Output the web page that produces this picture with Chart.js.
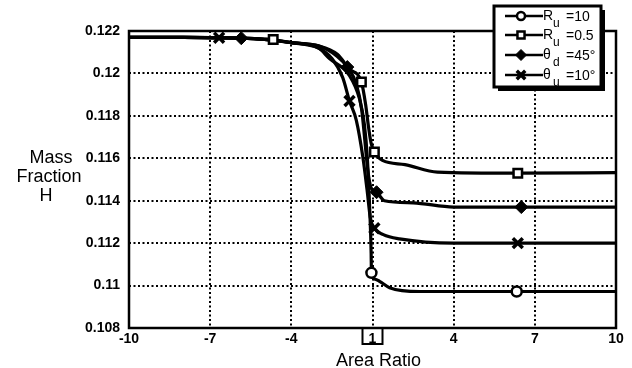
<!DOCTYPE html>
<html>
<head>
<meta charset="utf-8">
<script src="https://cdn.jsdelivr.net/npm/chart.js@4/dist/chart.umd.min.js"></script>
<style>
html,body{margin:0;padding:0;background:#fff;}
canvas{display:block;}
</style>
</head>
<body>
<canvas id="c" width="632" height="368"></canvas>
<script>
// ---- Data (x in axis units: 0 = area ratio 1, negative side mirrored) ----
const xTickLabels = {"-9":"-10","-6":"-7","-3":"-4","0":"1","3":"4","6":"7","9":"10"};
const yTickValues = [0.108,0.11,0.112,0.114,0.116,0.118,0.12,0.122];

const seriesNames = ["Ru=10","Ru=0.5","θd=45°","θu=10°"];

// Ru = 10 (circle)
const ru10X = [-9,-7,-5,-4,-3,-2,-1.59,-0.85,-0.48,-0.30,-0.19,-0.10,-0.05,0.10,0.26,0.63,1.74,9];
const ru10Y = [0.1217,0.1217,0.12166,0.1216,0.12145,0.1212,0.1207,0.1199,0.1188,0.1176,0.1160,0.1135,0.1115,0.1103,0.1102,0.1099,0.10972,0.10972];
const ru10MX = [-0.04,5.33];
const ru10MY = [0.1106,0.10972];

// Ru = 0.5 (square)
const ru05X = [-9,-7,-5,-3,-2,-1.3,-0.85,-0.25,-0.15,-0.05,0.37,1.2,2.4,9];
const ru05Y = [0.1217,0.1217,0.12166,0.12145,0.1213,0.1209,0.1202,0.1185,0.1175,0.1167,0.1159,0.1157,0.11535,0.11532];
const ru05MX = [-3.67,-0.41,0.07,5.37];
const ru05MY = [0.1216,0.1196,0.1163,0.1153];

// theta_d = 45 (diamond)
const td45X = [-9,-7,-4,-3,-2,-1.3,-0.6,-0.4,-0.28,-0.18,-0.05,0.44,1.5,3,9];
const td45Y = [0.1217,0.1217,0.1216,0.12145,0.1213,0.1208,0.1195,0.1183,0.1168,0.1155,0.1146,0.1140,0.1139,0.1137,0.1137];
const td45MX = [-4.85,-0.93,0.15,5.5];
const td45MY = [0.12166,0.1203,0.1144,0.1137];

// theta_u = 10 (x)
const tu10X = [-9,-7,-5,-4,-3,-2,-1.5,-1.1,-0.6,-0.35,-0.2,-0.08,0.4,1.0,3,9];
const tu10Y = [0.1217,0.1217,0.12168,0.1216,0.12145,0.1212,0.1207,0.1198,0.1178,0.1160,0.1145,0.1132,0.1124,0.1122,0.1120,0.1120];
const tu10MX = [-5.67,-0.85,0.07,5.37];
const tu10MY = [0.12168,0.1187,0.1127,0.1120];

const legendRows = [["R","u","=10"],["R","u","=0.5"],["θ","d","=45°"],["θ","u","=10°"]];

// ---- Build datasets ----
function pts(xs, ys){ return xs.map((x,i)=>({x:x,y:ys[i]})); }
function merged(xs, ys, mx, my){
  return pts(xs,ys).concat(pts(mx,my)).sort((a,b)=>a.x-b.x);
}
const styles = [
  {pointStyle:'circle', radius:5, bg:'#fff', bw:2.5},
  {pointStyle:'rect', radius:6, bg:'#fff', bw:2.5},
  {pointStyle:'rectRot', radius:6.5, bg:'#000', bw:1},
  {pointStyle:'crossRot', radius:7, bg:'#000', bw:3.5}
];
const lineSets = [
  merged(ru10X,ru10Y,ru10MX,ru10MY),
  merged(ru05X,ru05Y,ru05MX,ru05MY),
  merged(td45X,td45Y,td45MX,td45MY),
  merged(tu10X,tu10Y,tu10MX,tu10MY)
];
const markerSets = [pts(ru10MX,ru10MY),pts(ru05MX,ru05MY),pts(td45MX,td45MY),pts(tu10MX,tu10MY)];

const datasets = [];
lineSets.forEach((d,i)=>{
  datasets.push({label:seriesNames[i], data:d, borderColor:'#000', borderWidth:3.2,
    pointRadius:0, fill:false, cubicInterpolationMode:'monotone', order:1});
});
markerSets.forEach((d,i)=>{
  const s = styles[i];
  datasets.push({label:seriesNames[i]+' markers', data:d, showLine:false,
    pointStyle:s.pointStyle, pointRadius:s.radius, pointBackgroundColor:s.bg,
    pointBorderColor:'#000', pointBorderWidth:s.bw, order:0});
});

const FONT = '"Liberation Sans", Arial, sans-serif';

const decor = {
  id:'decor',
  afterDraw(chart){
    const ctx = chart.ctx, a = chart.chartArea;
    ctx.save();
    // frame
    ctx.strokeStyle='#000'; ctx.lineWidth=2.5;
    ctx.strokeRect(a.left, a.top, a.right-a.left, a.bottom-a.top);
    // box around "1" tick
    const x1 = chart.scales.x.getPixelForValue(0);
    ctx.lineWidth=2;
    ctx.strokeRect(x1-10, a.bottom, 20, 16);
    // axis titles
    ctx.fillStyle='#000';
    ctx.font = '18px '+FONT;
    ctx.textAlign='center'; ctx.textBaseline='alphabetic';
    ctx.fillText('Mass', 51, 163);
    ctx.fillText('Fraction', 49, 182);
    ctx.fillText('H', 46, 201);
    ctx.fillText('Area Ratio', x1+6, 366);
    // legend
    const lx=494, ly=6, lw=107, lh=81;
    ctx.fillStyle='#000';
    ctx.fillRect(lx+4, ly+4, lw, lh);
    ctx.fillStyle='#fff';
    ctx.fillRect(lx, ly, lw, lh);
    ctx.lineWidth=3; ctx.strokeStyle='#000';
    ctx.strokeRect(lx, ly, lw, lh);
    const rowsY=[16,35,55,75];
    legendRows.forEach((r,i)=>{
      const y=rowsY[i];
      ctx.strokeStyle='#000'; ctx.lineWidth=2.5;
      ctx.beginPath(); ctx.moveTo(505,y); ctx.lineTo(543,y); ctx.stroke();
      const s=styles[i];
      ctx.fillStyle=s.bg; ctx.strokeStyle='#000'; ctx.lineWidth=s.bw;
      Chart.helpers.drawPoint(ctx,{pointStyle:s.pointStyle, radius:s.radius-1, rotation:0, borderWidth:s.bw}, 521, y);
      ctx.fillStyle='#000';
      ctx.textAlign='left'; ctx.textBaseline='alphabetic';
      ctx.font='14px '+FONT;
      ctx.fillText(r[0], 543, y+4);
      ctx.font='12px '+FONT;
      ctx.fillText(r[1], 553, y+11);
      ctx.font='14px '+FONT;
      ctx.fillText(r[2], 566, y+5);
    });
    ctx.restore();
  }
};

new Chart(document.getElementById('c'), {
  type:'line',
  data:{datasets:datasets},
  options:{
    responsive:false, animation:false,
    layout:{padding:{left:0,right:16,top:31,bottom:0}},
    plugins:{legend:{display:false}, tooltip:{enabled:false}},
    scales:{
      x:{type:'linear', min:-9, max:9,
        afterBuildTicks(s){ s.ticks = Object.keys(xTickLabels).map(k=>({value:+k})); },
        afterFit(s){ s.height=40; },
        border:{display:false, dash:[2,2.5]},
        grid:{color:'#000', lineWidth:2, drawTicks:false},
        ticks:{color:'#000', font:{family:FONT,size:14,weight:'bold'}, padding:3, maxRotation:0,
          callback:(v)=>xTickLabels[String(v)]}
      },
      y:{type:'linear', min:0.108, max:0.122,
        afterBuildTicks(s){ s.ticks = yTickValues.map(v=>({value:v})); },
        afterFit(s){ s.width=129; },
        border:{display:false, dash:[2,2.5]},
        grid:{color:'#000', lineWidth:2, drawTicks:false},
        ticks:{color:'#000', font:{family:FONT,size:14,weight:'bold'}, padding:9,
          callback:(v)=>String(parseFloat(v.toFixed(3)))}
      }
    }
  },
  plugins:[decor]
});
</script>
</body>
</html>
